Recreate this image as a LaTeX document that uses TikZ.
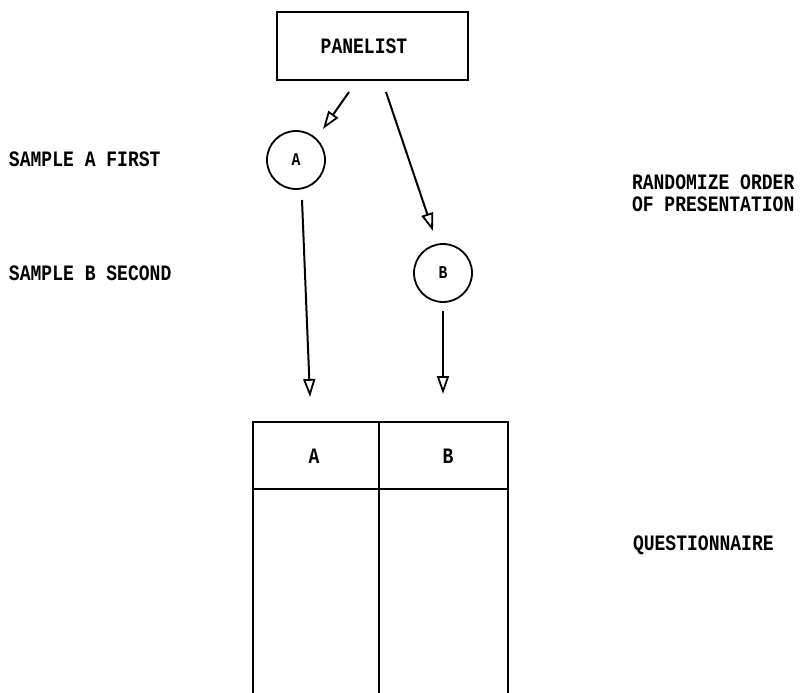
\documentclass[tikz,border=0pt]{standalone}
\usepackage{fontspec}
\usetikzlibrary{arrows.meta}
\newfontfamily\typw[FakeStretch=0.82]{Liberation Mono}
\begin{document}
\begin{tikzpicture}[x=1pt,y=-1pt,line width=2pt,
  lbl/.style={font=\typw\bfseries\fontsize{22}{24}\selectfont,inner sep=0pt},
  smalllbl/.style={font=\typw\bfseries\fontsize{18}{20}\selectfont,inner sep=0pt},
  circ/.style={draw,circle,minimum size=58pt,inner sep=0pt,line width=1.8pt},
  arr/.style={-{Triangle[open,length=18pt,width=12pt,line width=1.8pt]},line width=2pt}]
\useasboundingbox (0,0) rectangle (804,693);
% top box
\draw (277,12) rectangle (468,80);
\node[lbl] (pan) at (364,46) {PANELIST};
\coordinate (panA) at (349,92);
\coordinate (panB) at (386,92);
% circles
\node[circ] (ca) at (296,160) {};
\node[smalllbl] (ta) at (296,160) {A};
\node[circ] (cb) at (443,273) {};
\node[smalllbl] (tb) at (443,273) {B};
\coordinate (endA1) at (323,129);
\coordinate (endB1) at (433,231);
\coordinate (startA2) at (302,200);
\coordinate (endA2) at (310,397);
\coordinate (startB2) at (443,311);
\coordinate (endB2) at (443,394);
\draw[arr] (panA) -- (endA1);
\draw[arr] (panB) -- (endB1);
\draw[arr] (startA2) -- (endA2);
\draw[arr] (startB2) -- (endB2);
% table
\draw (253,694) -- (253,422) -- (508,422) -- (508,694);
\draw (379,422) -- (379,694);
\draw (253,489) -- (508,489);
\node[lbl] (ha) at (314,456) {A};
\node[lbl] (hb) at (448,456) {B};
% side labels
\node[lbl,anchor=west] (sa) at (8,159) {SAMPLE A FIRST};
\node[lbl,anchor=west] (sb) at (8,273) {SAMPLE B SECOND};
\node[lbl,anchor=west] (r1) at (631,182) {RANDOMIZE ORDER};
\node[lbl,anchor=west] (r2) at (631,204) {OF PRESENTATION};
\node[lbl,anchor=west] (q) at (632,545) {QUESTIONNAIRE};
\end{tikzpicture}
\end{document}
